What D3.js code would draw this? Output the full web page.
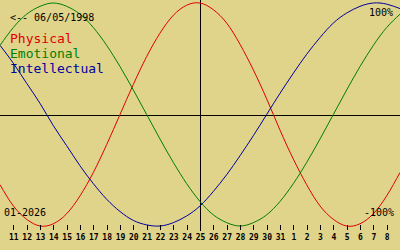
<!DOCTYPE html>
<html>
<head>
<meta charset="utf-8">
<script src="https://cdn.jsdelivr.net/npm/d3@7"></script>
<style>
  body { margin: 0; background: #e0d38a; }
  svg { display: block; }
  text { font-family: "DejaVu Sans Mono", monospace; }
</style>
</head>
<body>
<script>
// one entry per day, 10 Jan 2026 .. 9 Feb 2026
var days = ["2026-01-10","2026-01-11","2026-01-12","2026-01-13","2026-01-14","2026-01-15",
  "2026-01-16","2026-01-17","2026-01-18","2026-01-19","2026-01-20","2026-01-21","2026-01-22",
  "2026-01-23","2026-01-24","2026-01-25","2026-01-26","2026-01-27","2026-01-28","2026-01-29",
  "2026-01-30","2026-01-31","2026-02-01","2026-02-02","2026-02-03","2026-02-04","2026-02-05",
  "2026-02-06","2026-02-07","2026-02-08","2026-02-09"];

var physical = [-0.63,-0.82,-0.94,-1.0,-0.98,-0.89,-0.73,-0.52,-0.27,0.0,0.27,0.52,0.73,
  0.89,0.98,1.0,0.94,0.82,0.63,0.4,0.14,-0.14,-0.4,-0.63,-0.82,-0.94,-1.0,-0.98,-0.89,-0.73,-0.52];
var emotional = [0.62,0.78,0.9,0.97,1.0,0.97,0.9,0.78,0.62,0.43,0.22,0.0,-0.22,-0.43,-0.62,
  -0.78,-0.9,-0.97,-1.0,-0.97,-0.9,-0.78,-0.62,-0.43,-0.22,0.0,0.22,0.43,0.62,0.78,0.9];
var intellectual = [0.62,0.46,0.28,0.1,-0.1,-0.28,-0.46,-0.62,-0.76,-0.87,-0.95,-0.99,-1.0,
  -0.97,-0.91,-0.82,-0.69,-0.54,-0.37,-0.19,0.0,0.19,0.37,0.54,0.69,0.82,0.91,0.97,1.0,0.99,0.95];

var tickDays = ["2026-01-11","2026-01-12","2026-01-13","2026-01-14","2026-01-15","2026-01-16",
  "2026-01-17","2026-01-18","2026-01-19","2026-01-20","2026-01-21","2026-01-22","2026-01-23",
  "2026-01-24","2026-01-25","2026-01-26","2026-01-27","2026-01-28","2026-01-29","2026-01-30",
  "2026-01-31","2026-02-01","2026-02-02","2026-02-03","2026-02-04","2026-02-05","2026-02-06",
  "2026-02-07","2026-02-08"];
var today = "2026-01-25";
var birthLabel = "<-- 06/05/1998";
var monthLabel = "01-2026";
var series = [
  {name: "Physical", values: physical, color: "#e00000"},
  {name: "Emotional", values: emotional, color: "#008000"},
  {name: "Intellectual", values: intellectual, color: "#0000a0"}
];

var width = 400, height = 250;
var parse = d3.timeParse("%Y-%m-%d");
var dates = days.map(parse);

var x = d3.scaleTime()
          .domain([dates[0], dates[dates.length - 1]])
          .range([0, width]);
var y = d3.scaleLinear()
          .domain([-1, 1])
          .range([226, 3]);

var svg = d3.select("body").append("svg")
            .attr("width", width)
            .attr("height", height);

svg.append("rect").attr("width", width).attr("height", height).attr("fill", "#e0d38a");

// zero line and today line
var y0 = Math.round(y(0)) + 0.5;
svg.append("line")
   .attr("x1", 0).attr("x2", width)
   .attr("y1", y0).attr("y2", y0)
   .attr("stroke", "#000").attr("shape-rendering", "crispEdges");
var xt = Math.round(x(parse(today))) + 0.5;
svg.append("line")
   .attr("x1", xt).attr("x2", xt)
   .attr("y1", 0).attr("y2", 231)
   .attr("stroke", "#000").attr("shape-rendering", "crispEdges");

var line = d3.line()
             .x(function(d, i) { return x(dates[i]); })
             .y(function(d) { return y(d); })
             .curve(d3.curveNatural);

series.forEach(function(s) {
  svg.append("path")
     .attr("d", line(s.values))
     .attr("fill", "none")
     .attr("stroke", s.color)
     .attr("stroke-width", 1);
});

// day axis
var xAxis = d3.axisBottom(x)
              .tickValues(tickDays.map(parse))
              .tickSize(5)
              .tickPadding(4)
              .tickFormat(d3.timeFormat("%-d"));
var ax = svg.append("g")
            .attr("transform", "translate(0,225)")
            .call(xAxis);
ax.select(".domain").remove();
ax.selectAll("line").attr("stroke", "#000").attr("shape-rendering", "crispEdges");
ax.selectAll("text")
  .attr("fill", "#000")
  .style("font-family", "'DejaVu Sans Mono', monospace")
  .style("font-size", "8px")
  .style("font-weight", "bold");

// labels
svg.append("text").attr("x", 10).attr("y", 21)
   .style("font-size", "10px").text(birthLabel);
svg.selectAll(".legend").data(series).enter().append("text")
   .attr("class", "legend")
   .attr("x", 10)
   .attr("y", function(d, i) { return 43 + i * 15; })
   .attr("fill", function(d) { return d.color; })
   .style("font-size", "13px")
   .text(function(d) { return d.name; });
svg.append("text").attr("x", 393).attr("y", 16).attr("text-anchor", "end")
   .style("font-size", "10px").text("100%");
svg.append("text").attr("x", 394).attr("y", 216).attr("text-anchor", "end")
   .style("font-size", "10px").text("-100%");
svg.append("text").attr("x", 4).attr("y", 216)
   .style("font-size", "10px").text(monthLabel);
</script>
</body>
</html>
